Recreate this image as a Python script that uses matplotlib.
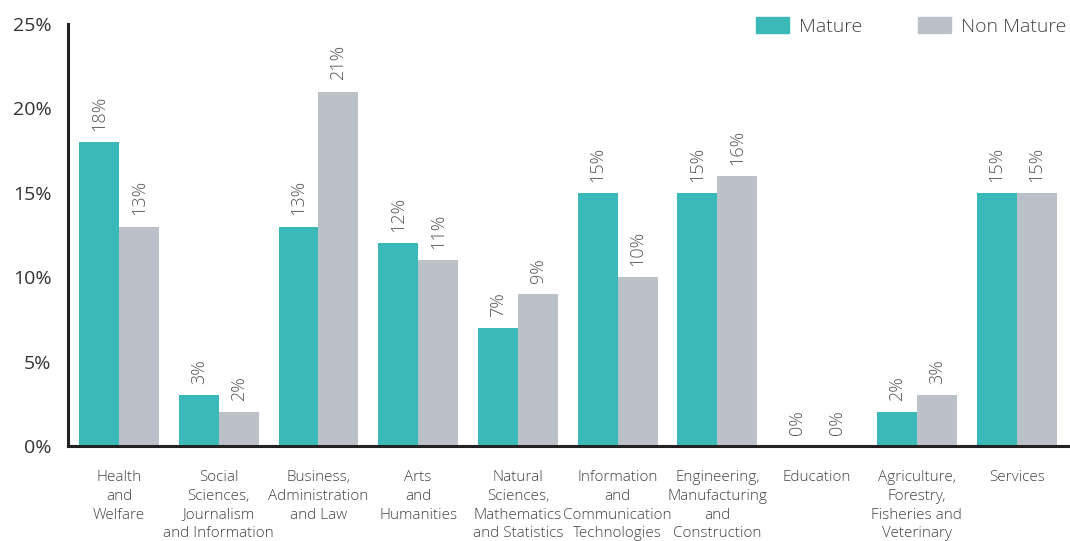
import numpy as np
import matplotlib.pyplot as plt
from matplotlib.patches import Patch

categories = ['Health\nand\nWelfare', 'Social\nSciences,\nJournalism\nand Information',
              'Business,\nAdministration\nand Law', 'Arts\nand\nHumanities',
              'Natural\nSciences,\nMathematics\nand Statistics',
              'Information\nand\nCommunication\nTechnologies',
              'Engineering,\nManufacturing\nand\nConstruction', 'Education',
              'Agriculture,\nForestry,\nFisheries and\nVeterinary', 'Services']
mature = [18, 3, 13, 12, 7, 15, 15, 0, 2, 15]
non_mature = [13, 2, 21, 11, 9, 10, 16, 0, 3, 15]

teal = '#3bb8b8'
grey = '#bac1c8'
plt.rcParams['font.family'] = ['Open Sans', 'DejaVu Sans']

fig = plt.figure(figsize=(10.7, 5.41), dpi=100)
ax = fig.add_axes([0.0636, 0.1756, 0.935, 0.78])

x = np.arange(len(categories))
w = 0.4
ax.bar(x - w / 2, mature, w, color=teal)
ax.bar(x + w / 2, non_mature, w, color=grey)

for xi, v in zip(x - w / 2, mature):
    ax.annotate('%d%%' % v, (xi, v), xytext=(0, 8), textcoords='offset points',
                rotation=90, ha='center', va='bottom', fontsize=13, color='#555555',
                fontweight='light')
for xi, v in zip(x + w / 2, non_mature):
    ax.annotate('%d%%' % v, (xi, v), xytext=(0, 8), textcoords='offset points',
                rotation=90, ha='center', va='bottom', fontsize=13, color='#555555',
                fontweight='light')

ax.set_xlim(-0.51, 9.52)
ax.set_ylim(0, 25)
ax.set_yticks([0, 5, 10, 15, 20, 25])
ax.set_yticklabels(['0%', '5%', '10%', '15%', '20%', '25%'], fontsize=14, color='#333333')
ax.set_xticks(x)
ax.set_xticklabels(categories, fontsize=11, color='#444444', linespacing=1.36,
                   fontweight='light')
ax.tick_params(axis='both', length=0)
ax.tick_params(axis='x', pad=17)
ax.tick_params(axis='y', pad=12)

for s in ['top', 'right']:
    ax.spines[s].set_visible(False)
for s in ['left', 'bottom']:
    ax.spines[s].set_linewidth(2.2)
    ax.spines[s].set_color('#222222')

handles = [Patch(color=teal, label='Mature'), Patch(color=grey, label='Non Mature')]
leg = fig.legend(handles=handles, loc='upper right', bbox_to_anchor=(1.013, 1.0), ncol=2,
                 frameon=False, fontsize=14, handlelength=1.7, handleheight=0.85,
                 handletextpad=0.5, columnspacing=2.9, labelcolor='#444444')
for t in leg.get_texts():
    t.set_fontweight('light')

fig.savefig('out.png', dpi=100)
